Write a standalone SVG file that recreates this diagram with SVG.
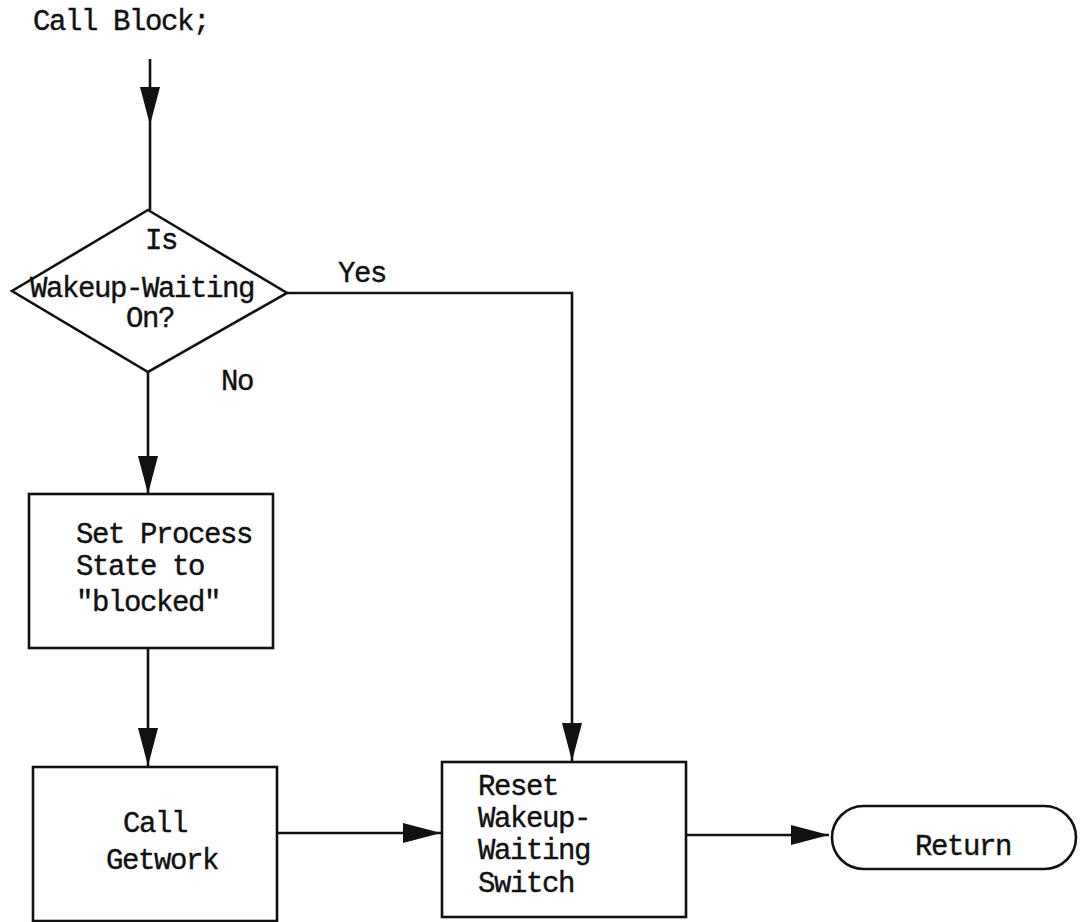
<svg xmlns="http://www.w3.org/2000/svg" width="1080" height="922" viewBox="0 0 1080 922">
  <style>
    .t { font-family: "Liberation Mono", "Courier New", monospace; font-size: 29px; letter-spacing: -1.4px; fill: #111; stroke: #111; stroke-width: 0.4; }
    .shape { fill: none; stroke: #111; stroke-width: 2.6; }
    .conn { fill: none; stroke: #111; stroke-width: 2.6; }
  </style>
  <defs>
    <marker id="arr" markerUnits="userSpaceOnUse" markerWidth="40" markerHeight="22" viewBox="0 0 40 22" refX="38" refY="10" orient="auto">
      <path d="M0,0 L38,10 L0,20 z" fill="#111"/>
    </marker>
  </defs>
  <rect width="1080" height="922" fill="#fff"/>

  <g id="connectors">
    <path class="conn" d="M150,59 V125 V210" marker-mid="url(#arr)"/>
    <path class="conn" d="M148,372 V494" marker-end="url(#arr)"/>
    <path class="conn" d="M148,648 V766" marker-end="url(#arr)"/>
    <path class="conn" d="M287,293 H572 V761" marker-end="url(#arr)"/>
    <path class="conn" d="M277,833 H441" marker-end="url(#arr)"/>
    <path class="conn" d="M686,835 H829" marker-end="url(#arr)"/>
    <text class="t" x="338" y="282">Yes</text>
    <text class="t" x="221" y="390">No</text>
  </g>

  <g id="start">
    <text class="t" x="33" y="30">Call Block;</text>
  </g>

  <g id="decision">
    <polygon class="shape" points="148,210 287,293 148,372 12,291"/>
    <text class="t" x="145" y="249">Is</text>
    <text class="t" x="30" y="297">Wakeup-Waiting</text>
    <text class="t" x="126" y="327">On?</text>
  </g>

  <g id="set-state">
    <rect class="shape" x="29" y="494" width="244" height="154"/>
    <text class="t" x="76" y="543">Set Process</text>
    <text class="t" x="76" y="575">State to</text>
    <text class="t" x="76" y="611">"blocked"</text>
  </g>

  <g id="call-getwork">
    <rect class="shape" x="33" y="767" width="244" height="154"/>
    <text class="t" x="123" y="832">Call</text>
    <text class="t" x="106" y="869">Getwork</text>
  </g>

  <g id="reset">
    <rect class="shape" x="442" y="762" width="244" height="155"/>
    <text class="t" x="478" y="795">Reset</text>
    <text class="t" x="478" y="827">Wakeup-</text>
    <text class="t" x="478" y="859">Waiting</text>
    <text class="t" x="478" y="892">Switch</text>
  </g>

  <g id="return">
    <rect class="shape" x="832" y="806" width="244" height="63" rx="31.5" ry="31.5"/>
    <text class="t" x="915" y="855">Return</text>
  </g>
</svg>
